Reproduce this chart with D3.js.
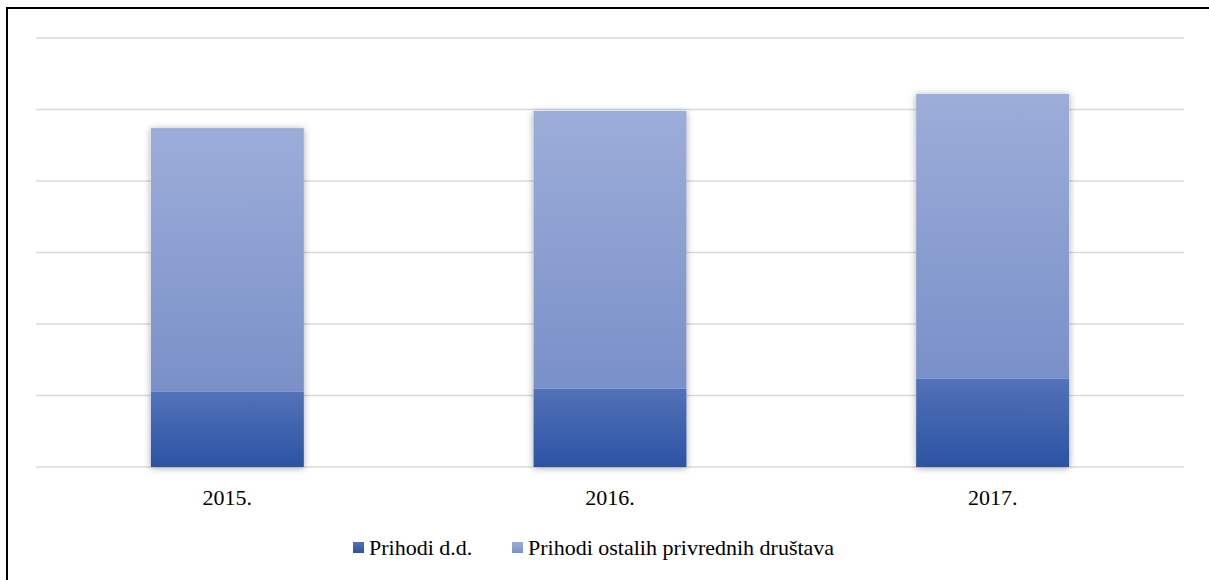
<!DOCTYPE html>
<html>
<head>
<meta charset="utf-8">
<script src="https://cdn.jsdelivr.net/npm/d3@7"></script>
<style>
  html, body { margin: 0; padding: 0; background: #fff; }
  svg { display: block; }
  svg text { font-family: "Liberation Serif", "Times New Roman", Times, serif; }
</style>
</head>
<body>
<svg id="chart" width="1209" height="580"></svg>
<script>
// Data (relative units, y-axis has no labels)
const categories = ["2015.", "2016.", "2017."];
const seriesNames = ["Prihodi d.d.", "Prihodi ostalih privrednih društava"];
const prihodiDD = [1.05, 1.10, 1.24];
const prihodiOstalih = [3.69, 3.88, 3.98];
const gridTicks = [0, 1, 2, 3, 4, 5, 6];

(function () {
const svg = d3.select("#chart");
const W = 1209, H = 580;
const mLeft = 36, mRight = 1184, mTop = 38, mBottom = 467;
const serif = '"Liberation Serif", "Times New Roman", Times, serif';

// Frame (top and left border visible)
svg.append("line").attr("x1", 6).attr("x2", W).attr("y1", 8).attr("y2", 8)
  .attr("stroke", "#000").attr("stroke-width", 2);
svg.append("line").attr("x1", 7).attr("x2", 7).attr("y1", 7).attr("y2", H)
  .attr("stroke", "#000").attr("stroke-width", 2);

const defs = svg.append("defs");
const g1 = defs.append("linearGradient").attr("id", "gDark").attr("x1", 0).attr("x2", 0).attr("y1", 0).attr("y2", 1);
g1.append("stop").attr("offset", "0%").attr("stop-color", "#5372b8");
g1.append("stop").attr("offset", "100%").attr("stop-color", "#2b53a3");
const g2 = defs.append("linearGradient").attr("id", "gLight").attr("x1", 0).attr("x2", 0).attr("y1", 0).attr("y2", 1);
g2.append("stop").attr("offset", "0%").attr("stop-color", "#9dadd9");
g2.append("stop").attr("offset", "100%").attr("stop-color", "#7990c8");
const f = defs.append("filter").attr("id", "shadow").attr("x", "-20%").attr("y", "-10%").attr("width", "140%").attr("height", "120%");
f.append("feDropShadow").attr("dx", 0).attr("dy", 1).attr("stdDeviation", 3.5)
  .attr("flood-color", "#000").attr("flood-opacity", 0.35);

const x = d3.scaleBand().domain(categories).range([mLeft, mRight]).paddingInner(0.6).paddingOuter(0.3);
const y = d3.scaleLinear().domain([0, 6]).range([mBottom, mTop]);

// Gridlines
svg.append("g").selectAll("line").data(gridTicks).join("line")
  .attr("x1", mLeft).attr("x2", mRight)
  .attr("y1", d => y(d)).attr("y2", d => y(d))
  .attr("stroke", "#d9d9d9").attr("stroke-width", 1.5);

// Stack
const rows = categories.map((c, i) => ({ cat: c, a: prihodiDD[i], b: prihodiOstalih[i] }));
const stack = d3.stack().keys(["a", "b"])(rows);
const fills = ["url(#gDark)", "url(#gLight)"];

const barsG = svg.append("g");
barsG.selectAll("rect.sh").data(rows).join("rect")
  .attr("class", "sh")
  .attr("x", d => x(d.cat)).attr("width", x.bandwidth())
  .attr("y", d => y(d.a + d.b)).attr("height", d => y(0) - y(d.a + d.b))
  .attr("fill", "#fff").attr("filter", "url(#shadow)");

stack.forEach((layer, li) => {
  barsG.selectAll("rect.s" + li).data(layer).join("rect")
    .attr("class", "s" + li)
    .attr("x", d => x(d.data.cat)).attr("width", x.bandwidth())
    .attr("y", d => y(d[1])).attr("height", d => y(d[0]) - y(d[1]))
    .attr("fill", fills[li]);
});

// X axis labels
const xAxis = d3.axisBottom(x).tickSize(0).tickPadding(0);
const ax = svg.append("g").attr("transform", `translate(0,${mBottom})`).call(xAxis);
ax.attr("font-family", null).attr("font-size", null);
ax.select(".domain").remove();
ax.selectAll("text")
  .attr("dy", null).attr("y", 38)
  .style("font-family", serif)
  .style("font-size", "22px").attr("fill", "#000");

// Legend
const legendItems = [
  { name: seriesNames[0], fill: "url(#gDark)", x: 353 },
  { name: seriesNames[1], fill: "url(#gLight)", x: 512 }
];
const lg = svg.append("g");
legendItems.forEach(it => {
  lg.append("rect").attr("x", it.x).attr("y", 542).attr("width", 11).attr("height", 11).attr("fill", it.fill);
  lg.append("text").attr("x", it.x + 16).attr("y", 555)
    .style("font-family", serif)
    .style("font-size", "22px").attr("fill", "#000").text(it.name);
});
})();
</script>
</body>
</html>
